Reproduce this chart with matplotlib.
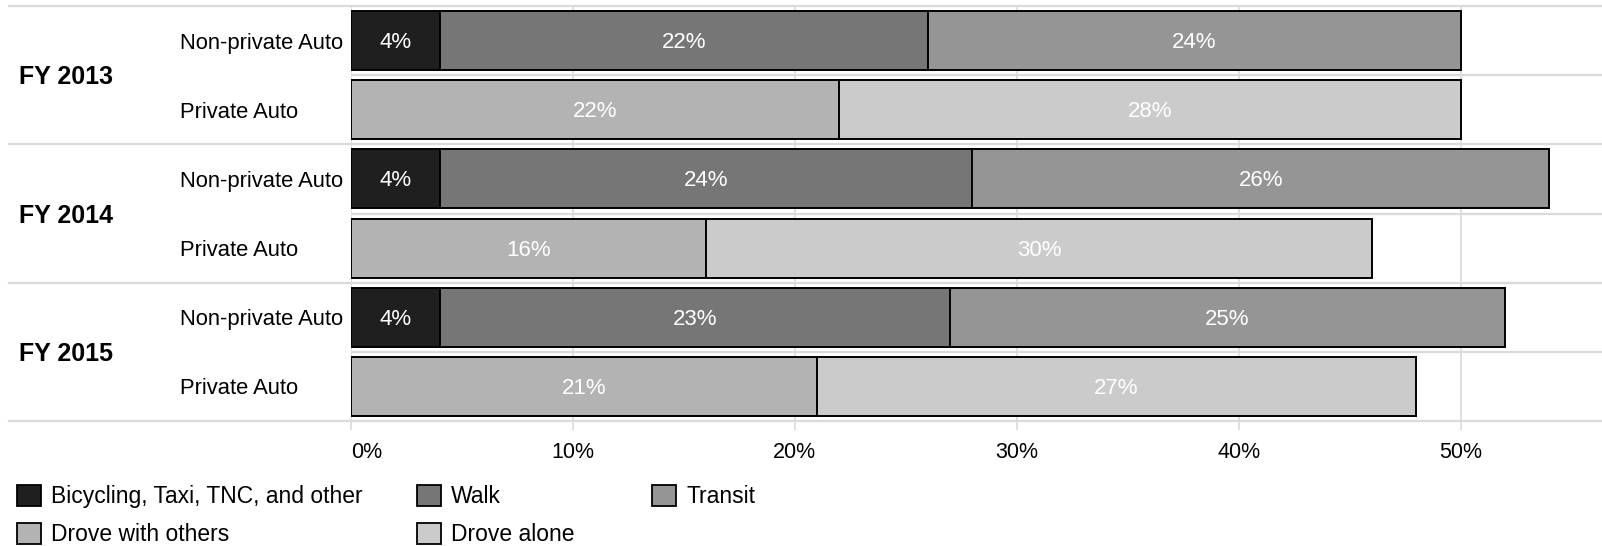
import matplotlib
matplotlib.use("Agg")
import matplotlib.pyplot as plt
from matplotlib.patches import Patch

plt.rcParams['font.family'] = ['Liberation Sans', 'DejaVu Sans']

# ---- data ----
years = ['FY 2013', 'FY 2014', 'FY 2015']
row_types = ['Non-private Auto', 'Private Auto']
bike = [4, 4, 4]
walk = [22, 24, 23]
transit = [24, 26, 25]
drove_with = [22, 16, 21]
drove_alone = [28, 30, 27]
mode_names = ['Bicycling, Taxi, TNC, and other', 'Walk', 'Transit',
              'Drove with others', 'Drove alone']
x_ticks = [0, 10, 20, 30, 40, 50]
x_tick_labels = ['0%', '10%', '20%', '30%', '40%', '50%']

colors = {'Bicycling, Taxi, TNC, and other': '#1f1f1f', 'Walk': '#767676',
          'Transit': '#959595', 'Drove with others': '#b3b3b3',
          'Drove alone': '#cbcbcb'}
GRID = '#dadada'

W, H, DPI = 1602, 546, 100
fig = plt.figure(figsize=(W / DPI, H / DPI), dpi=DPI)
left_px, top_px, bottom_px = 351, 6, 421
ax = fig.add_axes([left_px / W, 1 - bottom_px / H, 1 - left_px / W, (bottom_px - top_px) / H])

xmax = (W - left_px) / 22.19
ax.set_xlim(0, xmax)
ax.set_ylim(5.5, -0.5)

bar_h = 0.853
FS = 15.8

def draw_segments(y, segs):
    start = 0
    for name, val in segs:
        ax.barh(y, val, left=start, height=bar_h, color=colors[name],
                edgecolor='black', linewidth=1.4, zorder=3)
        ax.annotate(f'{val}%', xy=(start + val / 2, y), xytext=(0, -1.5),
                    textcoords='offset points', ha='center', va='center',
                    color='white', fontsize=16, zorder=4)
        start += val

ylabels = []
for i, yr in enumerate(years):
    y_np = 2 * i
    y_p = 2 * i + 1
    draw_segments(y_np, [(mode_names[0], bike[i]), (mode_names[1], walk[i]),
                         (mode_names[2], transit[i])])
    draw_segments(y_p, [(mode_names[3], drove_with[i]), (mode_names[4], drove_alone[i])])
    ylabels += row_types
    ax.annotate(yr, xy=(0, 2 * i + 0.5), xycoords='data',
                xytext=(-(left_px - 19) * 0.72, -1.5), textcoords='offset points',
                ha='left', va='center', fontsize=18, fontweight='bold',
                annotation_clip=False)

# gridlines
for xv in x_ticks:
    ax.axvline(xv, color=GRID, lw=1.2, zorder=0)
for k in range(7):
    yb = -0.5 + k
    if k % 2 == 0:
        ax.axhline(yb, xmin=-(left_px - 9) / (W - left_px), xmax=1,
                   color=GRID, lw=1.6, zorder=1, clip_on=False)
    else:
        ax.axhline(yb, color=GRID, lw=1.6, zorder=1)

for s in ax.spines.values():
    s.set_visible(False)

ax.set_yticks(range(6))
ax.set_yticklabels(ylabels, ha='left', fontsize=FS)
ax.tick_params(axis='y', length=0, pad=(left_px - 180) * 0.72)

ax.set_xticks(x_ticks)
ax.set_xticklabels(x_tick_labels, fontsize=15.5)
ax.get_xticklabels()[0].set_ha('left')
ax.tick_params(axis='x', length=6.5, width=1.2, color=GRID, pad=8.5)

# legend: three columns placed like the reference
LFS = 16.5
cols = [([0, 3], 17), ([1, 4], 417), ([2], 652)]
for idxs, xpx in cols:
    handles = [Patch(facecolor=colors[mode_names[j]], edgecolor='black', linewidth=1.3)
               for j in idxs]
    labels = [mode_names[j] for j in idxs]
    fig.legend(handles, labels, loc='upper left',
               bbox_to_anchor=(xpx / W, 1 - 485 / H), frameon=False,
               fontsize=LFS, borderpad=0, borderaxespad=0,
               handlelength=1.05, handleheight=1.05, handletextpad=0.45,
               labelspacing=0.62)

fig.savefig('out.png', dpi=DPI)
